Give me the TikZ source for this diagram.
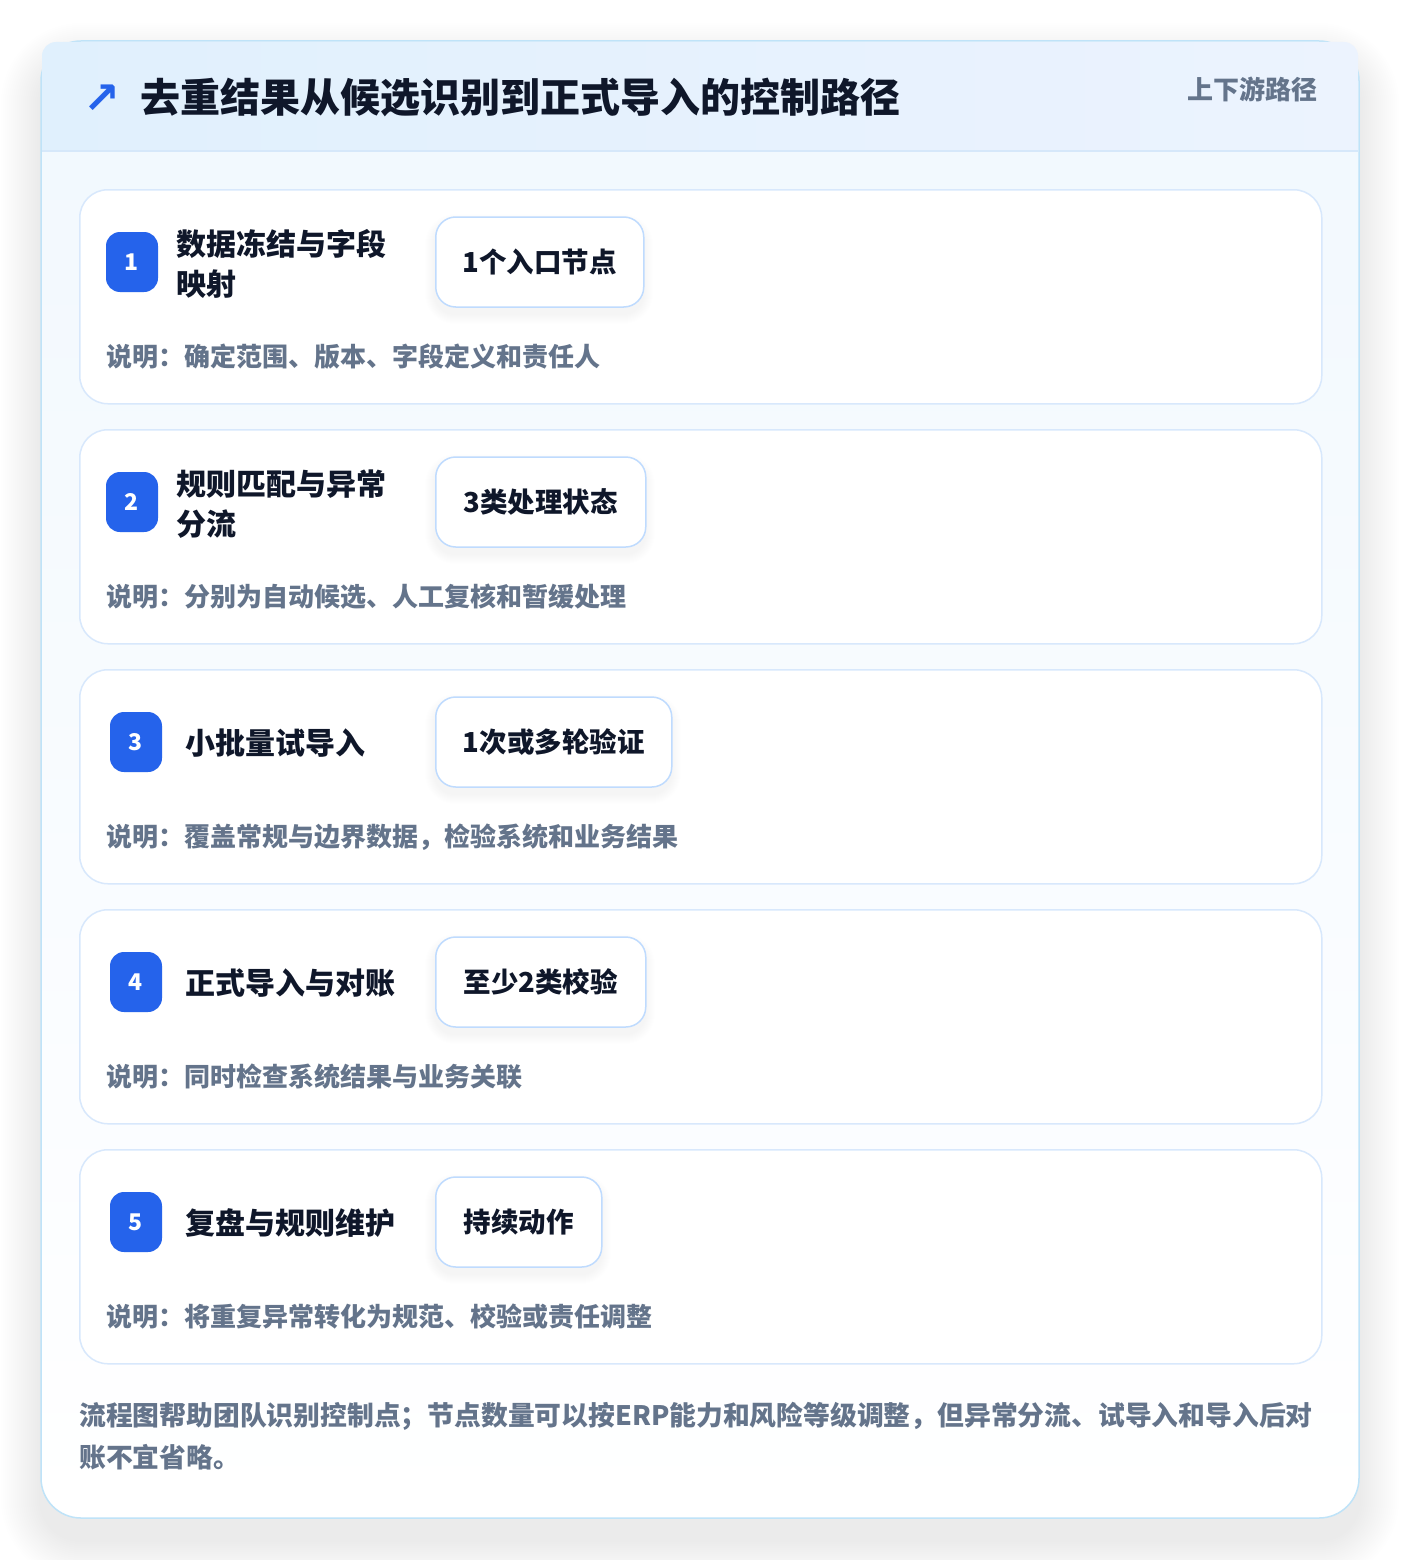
\documentclass[tikz,border=0pt]{standalone}
\usepackage{fontspec}
\setmainfont{Noto Sans CJK SC}
\newfontfamily\symfont{DejaVu Sans}
\definecolor{outerline}{HTML}{BFE3F8}
\definecolor{headA}{HTML}{E0F0FD}
\definecolor{headB}{HTML}{ECF3FE}
\definecolor{headline}{HTML}{D6E8FA}
\definecolor{bodytop}{HTML}{F1F8FE}
\definecolor{cardline}{HTML}{D8E8FC}
\definecolor{pillline}{HTML}{BFDBFE}
\definecolor{badgeblue}{HTML}{2563EB}
\definecolor{titlecol}{HTML}{0F172A}
\definecolor{greycol}{HTML}{64748B}
\definecolor{shadowcol}{HTML}{334155}
\tikzset{
  card/.style={draw=cardline, line width=1.5pt, fill=white, rounded corners=28pt,
    minimum width=1242pt, minimum height=214pt, anchor=north west, inner sep=0pt},
  badge/.style={fill=badgeblue, rounded corners=14pt, minimum width=52pt, minimum height=60pt,
    inner sep=0pt, text=white, font=\bfseries\fontsize{23}{23}\selectfont},
  steptitle/.style={anchor=west, align=left, inner sep=0pt, text=titlecol,
    font=\bfseries\fontsize{30}{40}\selectfont},
  pill/.style={draw=pillline, line width=1.5pt, fill=white, rounded corners=20pt,
    minimum height=90pt, inner sep=0pt, anchor=west, text=titlecol,
    font=\bfseries\fontsize{27.5}{27.5}\selectfont},
  desc/.style={anchor=west, inner sep=0pt, text=greycol, font=\bfseries\fontsize{26}{26}\selectfont},
}
% soft shadow under a pill: left x, centre y, width
\newcommand{\pillshadow}[3]{%
  \foreach \i in {1,...,10}{%
    \pgfmathsetmacro\rr{20+\i}%
    \fill[shadowcol, opacity=0.005, rounded corners=\rr pt]
      (#1-\i, #2-45-\i+7) rectangle (#1+#3+\i, #2+45+\i+7);
  }}
\begin{document}
\begin{tikzpicture}[x=1pt,y=-1pt]
\useasboundingbox (0,0) rectangle (1400,1560);
\fill[white] (0,0) rectangle (1400,1560);
% outer card shadow
\foreach \i in {2,4,...,40}{
  \pgfmathsetmacro\rr{40+\i}
  \fill[shadowcol, opacity=0.0042, rounded corners=\rr pt]
    (41-\i, 41-\i+22) rectangle (1359+\i, 1518+\i+22);
}
% outer card
\path[top color=bodytop, bottom color=white, draw=outerline, line width=1.5pt, rounded corners=40pt]
  (41,41) rectangle (1359,1518);
% header
\begin{scope}
\clip (0,0) rectangle (1400,151);
\path[left color=headA, right color=headB, rounded corners=14pt] (42,42) rectangle (1358,220);
\end{scope}
\draw[headline, line width=1.5pt] (42,151) -- (1358,151);
\node[anchor=center, inner sep=0pt, text=badgeblue, font=\symfont\bfseries\fontsize{44}{44}\selectfont] (arrow) at (102,99) {↗};
\node[anchor=west, inner sep=0pt, text=titlecol, font=\bfseries\fontsize{40}{40}\selectfont] (title) at (140,98) {去重结果从候选识别到正式导入的控制路径};
\node[anchor=east, inner sep=0pt, text=greycol, font=\bfseries\fontsize{26}{26}\selectfont] (tag) at (1318,89) {上下游路径};
% cards
\node[card] (c1) at (79,189) {};
\node[card] (c2) at (79,429) {};
\node[card] (c3) at (79,669) {};
\node[card] (c4) at (79,909) {};
\node[card] (c5) at (79,1149) {};
% pill shadows
\pillshadow{435}{262}{208}
\pillshadow{435}{502}{210}
\pillshadow{435}{742}{236}
\pillshadow{435}{982}{210}
\pillshadow{435}{1222}{166}
% card 1
\node[badge] (b1) at (132,262) {1};
\node[steptitle] (t1) at (176,264) {数据冻结与字段\\映射};
\node[pill, minimum width=208pt] (p1) at (435,262) {1个入口节点};
\node[desc] (d1) at (106,357) {说明：确定范围、版本、字段定义和责任人};
% card 2
\node[badge] (b2) at (132,502) {2};
\node[steptitle] (t2) at (176,504) {规则匹配与异常\\分流};
\node[pill, minimum width=210pt] (p2) at (435,502) {3类处理状态};
\node[desc] (d2) at (106,597) {说明：分别为自动候选、人工复核和暂缓处理};
% card 3
\node[badge] (b3) at (136,742) {3};
\node[steptitle] (t3) at (185,743) {小批量试导入};
\node[pill, minimum width=236pt] (p3) at (435,742) {1次或多轮验证};
\node[desc] (d3) at (106,837) {说明：覆盖常规与边界数据，检验系统和业务结果};
% card 4
\node[badge] (b4) at (136,982) {4};
\node[steptitle] (t4) at (185,983) {正式导入与对账};
\node[pill, minimum width=210pt] (p4) at (435,982) {至少2类校验};
\node[desc] (d4) at (106,1077) {说明：同时检查系统结果与业务关联};
% card 5
\node[badge] (b5) at (136,1222) {5};
\node[steptitle] (t5) at (185,1223) {复盘与规则维护};
\node[pill, minimum width=166pt] (p5) at (435,1222) {持续动作};
\node[desc] (d5) at (106,1317) {说明：将重复异常转化为规范、校验或责任调整};
% footer
\node[anchor=west, align=left, inner sep=0pt, text=greycol, font=\bfseries\fontsize{26.8}{42}\selectfont] (foot) at (79,1436)
  {流程图帮助团队识别控制点；节点数量可以按ERP能力和风险等级调整，但异常分流、试导入和导入后对\\账不宜省略。};
\end{tikzpicture}
\end{document}
